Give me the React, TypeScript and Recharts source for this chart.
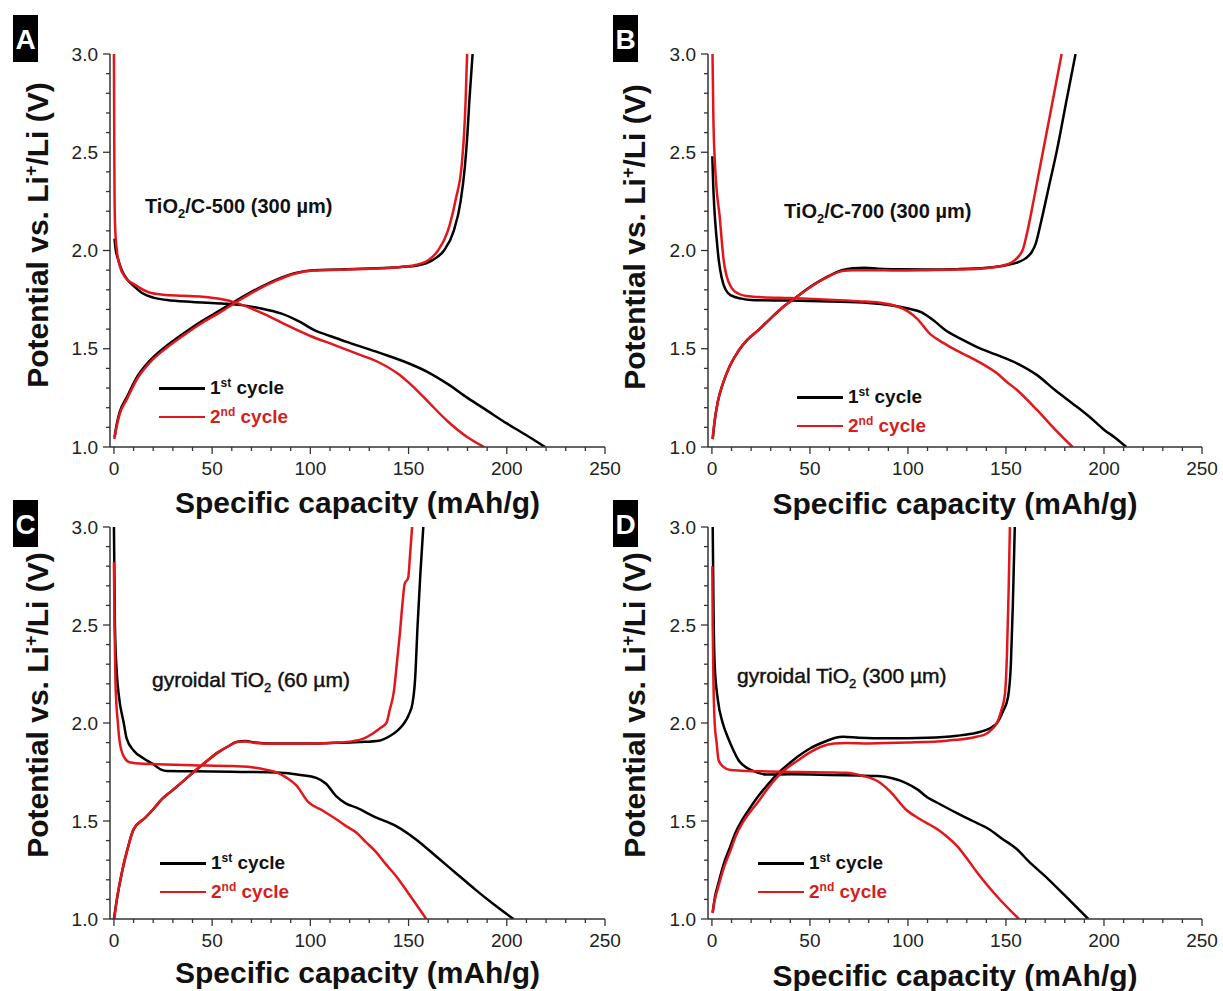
import React from 'react';
import { LineChart, Line, XAxis, YAxis, Legend } from 'recharts';

type Pt = [number, number];

// axis ticks
const xMajor = [0, 50, 100, 150, 200, 250];
const xTicks = [0, 10, 20, 30, 40, 50, 60, 70, 80, 90, 100, 110, 120, 130, 140, 150, 160, 170, 180, 190, 200, 210, 220, 230, 240, 250];
const yMajor = [1.0, 1.5, 2.0, 2.5, 3.0];
const yTicks = [1.0, 1.1, 1.2, 1.3, 1.4, 1.5, 1.6, 1.7, 1.8, 1.9, 2.0, 2.1, 2.2, 2.3, 2.4, 2.5, 2.6, 2.7, 2.8, 2.9, 3.0];

const cycleNames = ['1st cycle', '2nd cycle'];
const panelLetters = ['A', 'B', 'C', 'D'];
const sampleNames = ['TiO2/C-500 (300 µm)', 'TiO2/C-700 (300 µm)', 'gyroidal TiO2 (60 µm)', 'gyroidal TiO2 (300 µm)'];

// [capacity mAh/g, potential V]
const aDis1: Pt[] = [[0.3, 2.06], [0.8, 2.01], [2, 1.96], [4, 1.9], [7, 1.85], [10, 1.82], [15, 1.78], [20, 1.76], [27, 1.748], [40, 1.738], [55, 1.73], [65, 1.722], [75, 1.705], [85, 1.68], [95, 1.635], [102, 1.595], [110, 1.565], [120, 1.53], [135, 1.48], [149, 1.43], [160, 1.38], [170, 1.32], [180, 1.25], [190, 1.185], [200, 1.12], [210, 1.06], [219.5, 1.0]];
const aChg1: Pt[] = [[0.3, 1.05], [1.5, 1.12], [3, 1.18], [6.4, 1.25], [12, 1.36], [18.3, 1.44], [26.8, 1.515], [35, 1.575], [43.8, 1.635], [54, 1.695], [64, 1.755], [73, 1.805], [82.8, 1.852], [92, 1.885], [101.5, 1.9], [115, 1.903], [130, 1.908], [145, 1.915], [155, 1.925], [162, 1.95], [168, 2.0], [173, 2.1], [176.5, 2.25], [178.7, 2.43], [180, 2.6], [181, 2.77], [182.6, 3.0]];
const aDis2: Pt[] = [[0, 3.0], [0.15, 2.6], [0.3, 2.3], [0.6, 2.12], [1.5, 2.0], [3, 1.92], [6, 1.86], [10, 1.83], [18, 1.786], [25, 1.775], [35, 1.77], [45, 1.765], [55, 1.752], [62, 1.735], [70, 1.705], [78, 1.67], [88, 1.62], [100, 1.565], [112, 1.52], [125, 1.47], [135, 1.43], [145, 1.37], [152, 1.31], [160, 1.23], [170, 1.13], [180, 1.05], [188.5, 1.0]];
const aChg2: Pt[] = [[0.2, 1.04], [1.5, 1.11], [3, 1.17], [6.4, 1.24], [12, 1.35], [18.3, 1.43], [26.8, 1.505], [35, 1.565], [43.8, 1.625], [54, 1.685], [64, 1.748], [73, 1.8], [82.8, 1.848], [92, 1.882], [101.5, 1.898], [115, 1.902], [130, 1.907], [145, 1.915], [153, 1.925], [160, 1.95], [165, 2.0], [170, 2.1], [174, 2.26], [177, 2.43], [178.3, 2.6], [179, 2.75], [179.8, 3.0]];

const bDis1: Pt[] = [[0.2, 2.48], [0.6, 2.35], [1.2, 2.22], [2.4, 2.06], [3.5, 1.95], [5, 1.86], [7, 1.8], [10, 1.77], [15, 1.755], [20, 1.748], [40, 1.745], [60, 1.74], [80, 1.733], [92, 1.72], [100, 1.705], [107, 1.685], [113, 1.645], [119, 1.595], [127, 1.55], [135, 1.51], [145, 1.47], [155.6, 1.426], [165.7, 1.367], [175, 1.29], [186, 1.206], [193, 1.15], [200, 1.088], [206, 1.045], [211.4, 1.0]];
const bChg1: Pt[] = [[0.4, 1.04], [1.5, 1.14], [3, 1.23], [5.5, 1.32], [9, 1.41], [13.6, 1.49], [18, 1.545], [23.7, 1.595], [30, 1.655], [36, 1.71], [43, 1.762], [50, 1.814], [58, 1.862], [66.3, 1.9], [72, 1.91], [78, 1.912], [85, 1.907], [95, 1.904], [110, 1.903], [125, 1.905], [140, 1.912], [150, 1.925], [156, 1.94], [160, 1.96], [163, 1.99], [165, 2.03], [168, 2.15], [172, 2.33], [176, 2.51], [181, 2.77], [185.5, 3.0]];
const bDis2: Pt[] = [[0.3, 3.0], [0.7, 2.7], [1.5, 2.45], [2.5, 2.3], [4, 2.17], [5, 2.05], [6, 1.95], [7.5, 1.87], [10, 1.81], [13.6, 1.78], [18, 1.768], [24, 1.763], [40, 1.758], [60, 1.75], [75, 1.742], [85, 1.735], [93, 1.72], [100, 1.69], [105, 1.65], [111, 1.578], [118, 1.53], [125, 1.49], [135, 1.44], [145.4, 1.375], [150, 1.335], [155.6, 1.29], [165.7, 1.19], [175, 1.09], [184, 1.0]];
const bChg2: Pt[] = [[0.3, 1.04], [1.5, 1.14], [3, 1.23], [5.5, 1.32], [9, 1.41], [13.6, 1.49], [18, 1.545], [23.7, 1.595], [30, 1.655], [36, 1.71], [43, 1.762], [50, 1.812], [58, 1.86], [66.3, 1.895], [72, 1.9], [80, 1.9], [95, 1.898], [110, 1.9], [125, 1.903], [140, 1.91], [148, 1.922], [153, 1.94], [156, 1.965], [158.8, 2.01], [161, 2.1], [164, 2.25], [166.5, 2.38], [169, 2.51], [174, 2.77], [178.4, 3.0]];

const cDis1: Pt[] = [[0, 3.0], [0.5, 2.5], [1.5, 2.25], [2.5, 2.14], [5, 2.0], [6.5, 1.92], [10, 1.86], [15, 1.82], [20, 1.79], [24, 1.762], [27, 1.755], [40, 1.754], [60, 1.751], [83, 1.747], [95, 1.735], [103, 1.72], [108, 1.69], [113, 1.628], [118, 1.59], [123.5, 1.568], [133, 1.52], [143.7, 1.474], [153.8, 1.406], [164, 1.32], [174, 1.235], [184, 1.15], [194, 1.07], [203.4, 1.0]];
const cChg1: Pt[] = [[0, 1.0], [1.5, 1.1], [4, 1.235], [7, 1.36], [10, 1.457], [16, 1.517], [20, 1.56], [24.3, 1.61], [29, 1.65], [34.4, 1.696], [40, 1.745], [46.6, 1.8], [53, 1.85], [58.7, 1.884], [62.8, 1.905], [67, 1.908], [72, 1.9], [80, 1.895], [95, 1.895], [110, 1.898], [125, 1.903], [135, 1.91], [140.7, 1.935], [144.5, 1.962], [147.8, 2.0], [150, 2.04], [152, 2.1], [153.3, 2.22], [154.6, 2.5], [156, 2.76], [157.5, 3.0]];
const cDis2: Pt[] = [[0, 2.82], [0.3, 2.5], [0.8, 2.2], [2, 2.0], [3, 1.9], [5, 1.83], [8, 1.8], [15, 1.792], [22, 1.79], [40, 1.785], [60, 1.78], [72, 1.772], [78, 1.76], [83, 1.747], [88, 1.72], [93, 1.68], [99, 1.596], [106, 1.555], [113, 1.51], [118, 1.475], [123.5, 1.44], [128, 1.395], [133.6, 1.34], [138, 1.285], [143.7, 1.218], [150, 1.13], [159, 1.0]];
const cChg2: Pt[] = [[0.2, 1.0], [1.5, 1.1], [4, 1.235], [7, 1.36], [10, 1.457], [16, 1.517], [20, 1.56], [24.3, 1.61], [29, 1.65], [34.4, 1.696], [40, 1.745], [46.6, 1.8], [53, 1.85], [58.7, 1.884], [62.8, 1.903], [67, 1.905], [72, 1.898], [80, 1.894], [95, 1.894], [110, 1.898], [120, 1.905], [127, 1.92], [131.6, 1.945], [135, 1.97], [138.7, 2.0], [140.5, 2.07], [142.5, 2.16], [144, 2.3], [145.5, 2.45], [147, 2.62], [148, 2.71], [149.8, 2.74], [150.7, 2.85], [151.8, 3.0]];

const dDis1: Pt[] = [[0.4, 3.0], [0.8, 2.6], [1.4, 2.3], [3, 2.12], [5.5, 2.0], [8, 1.93], [11, 1.86], [13.6, 1.81], [18, 1.77], [23.7, 1.746], [27.8, 1.737], [40, 1.738], [60, 1.735], [75, 1.732], [84.6, 1.729], [92, 1.718], [98.8, 1.695], [105, 1.66], [110, 1.62], [115, 1.593], [125, 1.54], [133, 1.5], [141.4, 1.458], [148, 1.41], [155.6, 1.356], [162, 1.29], [169.8, 1.22], [180, 1.12], [192, 1.0]];
const dChg1: Pt[] = [[0.4, 1.034], [1.5, 1.11], [3.4, 1.186], [6, 1.28], [9.5, 1.373], [12, 1.44], [15.6, 1.508], [19, 1.56], [23.7, 1.627], [28, 1.68], [33.9, 1.746], [39, 1.79], [44, 1.83], [50, 1.87], [58.2, 1.907], [63, 1.925], [67, 1.93], [75, 1.925], [90, 1.922], [110, 1.925], [125, 1.935], [135, 1.95], [140, 1.965], [143, 1.98], [145.4, 2.0], [148.5, 2.06], [151, 2.13], [152.5, 2.3], [153.5, 2.6], [154.5, 3.0]];
const dDis2: Pt[] = [[0.2, 2.8], [0.4, 2.5], [0.8, 2.2], [1.4, 2.0], [2.4, 1.9], [3.4, 1.81], [6, 1.775], [9.5, 1.76], [15, 1.757], [23.7, 1.754], [45, 1.75], [60, 1.748], [68.4, 1.746], [77, 1.73], [84.6, 1.703], [91, 1.65], [98.8, 1.56], [106, 1.51], [115, 1.458], [120, 1.42], [125, 1.373], [130, 1.31], [135.3, 1.237], [145, 1.12], [156.6, 1.0]];
const dChg2: Pt[] = [[0.3, 1.03], [1.5, 1.1], [3.4, 1.17], [6, 1.26], [9.5, 1.35], [12, 1.42], [15.6, 1.49], [19, 1.54], [23.7, 1.6], [28, 1.66], [33.9, 1.73], [39, 1.775], [44, 1.81], [50, 1.85], [56, 1.88], [62.3, 1.895], [68.4, 1.898], [80, 1.896], [100, 1.9], [120, 1.91], [135, 1.93], [140, 1.945], [143, 1.97], [145.4, 2.0], [147.5, 2.06], [149.5, 2.15], [150.5, 2.35], [151.3, 2.65], [152, 3.0]];

const W = 1223;
const H = 991;
const FONT = '"Liberation Sans", Arial, Helvetica, sans-serif';
const BLACK = '#000000';
const RED = '#e3161c';
const AXIS = '#333333';

const toRows = (pts: Pt[]) => pts.map(([c, v]) => ({ c, v }));

interface PanelSpec {
  letter: string;
  sample: string;
  dis1: Pt[];
  chg1: Pt[];
  dis2: Pt[];
  chg2: Pt[];
  plot: { left: number; top: number; right: number; bottom: number };
  sampleAt: [number, number];
  legendAt: [number, number];
  yTitleX: number;
  yTitleY: number;
  xTitleY: number;
}

const panels: PanelSpec[] = [
  { letter: panelLetters[0], sample: sampleNames[0], dis1: aDis1, chg1: aChg1, dis2: aDis2, chg2: aChg2,
    plot: { left: 110, top: 54, right: 605, bottom: 447 }, sampleAt: [145, 213], legendAt: [159, 374],
    yTitleX: 37, yTitleY: 235, xTitleY: 502 },
  { letter: panelLetters[1], sample: sampleNames[1], dis1: bDis1, chg1: bChg1, dis2: bDis2, chg2: bChg2,
    plot: { left: 708, top: 54, right: 1202, bottom: 447 }, sampleAt: [784, 218], legendAt: [797, 383],
    yTitleX: 634, yTitleY: 237, xTitleY: 503 },
  { letter: panelLetters[2], sample: sampleNames[2], dis1: cDis1, chg1: cChg1, dis2: cDis2, chg2: cChg2,
    plot: { left: 110, top: 527, right: 605, bottom: 919 }, sampleAt: [152, 687], legendAt: [160, 849],
    yTitleX: 37, yTitleY: 705, xTitleY: 972 },
  { letter: panelLetters[3], sample: sampleNames[3], dis1: dDis1, chg1: dChg1, dis2: dDis2, chg2: dChg2,
    plot: { left: 708, top: 527, right: 1202, bottom: 919 }, sampleAt: [737, 683], legendAt: [758, 849],
    yTitleX: 634, yTitleY: 705, xTitleY: 975 },
];

const XTick = (props: any) => {
  const { x, y, payload } = props;
  const major = xMajor.includes(payload.value);
  return (
    <g>
      <line x1={x} x2={x} y1={y} y2={y + (major ? 7 : 4)} stroke={AXIS} strokeWidth={1.3} />
      {major && (
        <text x={x} y={y + 21} dy="0.35em" textAnchor="middle" fontFamily={FONT} fontSize={19} fill="#222">
          {payload.value}
        </text>
      )}
    </g>
  );
};

const YTick = (props: any) => {
  const { x, y, payload } = props;
  const major = yMajor.some((m) => Math.abs(m - payload.value) < 1e-6);
  return (
    <g>
      <line x1={x} x2={x - (major ? 7 : 4)} y1={y} y2={y} stroke={AXIS} strokeWidth={1.3} />
      {major && (
        <text x={x - 12} y={y} dy="0.35em" textAnchor="end" fontFamily={FONT} fontSize={19} fill="#222">
          {Number(payload.value).toFixed(1)}
        </text>
      )}
    </g>
  );
};

const CycleLegend = (props: any) => {
  // only the two cycle names, the charge halves stay out of the key
  const items = ((props.payload || []) as any[])
    .filter((it) => cycleNames.includes(it.value))
    .sort((a, b) => cycleNames.indexOf(a.value) - cycleNames.indexOf(b.value));
  return (
    <div style={{ fontFamily: FONT, fontWeight: 'bold', fontSize: 19 }}>
      {items.map((it) => {
        const m = String(it.value).match(/^(\d)(st|nd|rd|th)\s(.*)$/);
        return (
          <div key={it.value} style={{ display: 'flex', alignItems: 'center', height: 28.5, color: it.color === RED ? '#d41f1f' : '#111' }}>
            <div style={{ width: 46, height: 2.5, background: it.color, marginRight: 5 }} />
            {m ? (
              <span>
                {m[1]}
                <span style={{ fontSize: 12, position: 'relative', top: -7 }}>{m[2]}</span> {m[3]}
              </span>
            ) : (
              <span>{it.value}</span>
            )}
          </div>
        );
      })}
    </div>
  );
};

function Panel({ p }: { p: PanelSpec }) {
  const { plot } = p;
  const yAxisW = 70;
  const xAxisH = 40;
  const lineProps = { type: 'monotone' as const, dataKey: 'v', dot: false, strokeWidth: 2.5, isAnimationActive: false };
  return (
    <div style={{ position: 'absolute', left: 0, top: 0 }}>
      <LineChart
        width={W}
        height={H}
        margin={{ left: plot.left - yAxisW, top: plot.top, right: W - plot.right, bottom: H - plot.bottom - xAxisH }}
      >
        <XAxis
          type="number"
          dataKey="c"
          domain={[-2, 250]}
          allowDataOverflow
          ticks={xTicks}
          interval={0}
          tick={<XTick />}
          tickLine={false}
          tickSize={0}
          tickMargin={0}
          height={xAxisH}
          axisLine={{ stroke: AXIS, strokeWidth: 1.5 }}
          label={{
            content: () => (
              <text x={(plot.left + plot.right) / 2} y={p.xTitleY} dy="0.35em" textAnchor="middle"
                fontFamily={FONT} fontWeight="bold" fontSize={30} fill="#111">
                Specific capacity (mAh/g)
              </text>
            ),
          }}
        />
        <YAxis
          type="number"
          dataKey="v"
          domain={[1, 3]}
          allowDataOverflow
          ticks={yTicks}
          interval={0}
          tick={<YTick />}
          tickLine={false}
          tickSize={0}
          tickMargin={0}
          width={yAxisW}
          axisLine={{ stroke: AXIS, strokeWidth: 1.5 }}
          label={{
            content: () => (
              <text x={p.yTitleX} y={p.yTitleY} dy="0.35em" textAnchor="middle"
                transform={`rotate(-90 ${p.yTitleX} ${p.yTitleY})`}
                fontFamily={FONT} fontWeight="bold" fontSize={30} fill="#111">
                Potential vs. Li<tspan fontSize={18} dy={-11}>+</tspan><tspan dy={11}>/Li (V)</tspan>
              </text>
            ),
          }}
        />
        <Legend
          layout="horizontal"
          verticalAlign="middle"
          content={<CycleLegend />}
          wrapperStyle={{ left: p.legendAt[0], top: p.legendAt[1], width: 'auto', height: 'auto' }}
        />
        <Line {...lineProps} data={toRows(p.dis1)} name={cycleNames[0]} stroke={BLACK} />
        <Line {...lineProps} data={toRows(p.chg1)} name="1st charge" stroke={BLACK} legendType="none" />
        <Line {...lineProps} data={toRows(p.dis2)} name={cycleNames[1]} stroke={RED} />
        <Line {...lineProps} data={toRows(p.chg2)} name="2nd charge" stroke={RED} legendType="none" />
      </LineChart>
    </div>
  );
}

function SampleLabel({ p }: { p: PanelSpec }) {
  const [x, y] = p.sampleAt;
  const bold = p.sample.startsWith('TiO2');
  const parts = p.sample.split('TiO2');
  return (
    <text x={x} y={y} fontFamily={FONT} fontWeight={bold ? 'bold' : 'normal'} fontSize={bold ? 20 : 21}
      fill="#111" stroke={bold ? 'none' : '#111'} strokeWidth={bold ? 0 : 0.45}>
      {parts[0]}TiO<tspan fontSize={13} dy={5}>2</tspan>
      <tspan dy={-5}>{parts[1]}</tspan>
    </text>
  );
}

const boxes: [number, number][] = [[13, 15], [613, 15], [13, 500], [613, 500]];

export default function App() {
  return (
    <div style={{ position: 'absolute', left: 0, top: 0, width: W, height: H, background: '#fff' }}>
      {panels.map((p) => (
        <Panel key={p.letter} p={p} />
      ))}
      <svg width={W} height={H} style={{ position: 'absolute', left: 0, top: 0, pointerEvents: 'none' }}>
        {panels.map((p, i) => (
          <g key={p.letter}>
            <rect x={boxes[i][0]} y={boxes[i][1]} width={25} height={47} fill="#000" />
            <text x={boxes[i][0] + 12.5} y={boxes[i][1] + 24} dy="0.35em" textAnchor="middle"
              fontFamily={FONT} fontWeight="bold" fontSize={28} fill="#fff">
              {p.letter}
            </text>
            <SampleLabel p={p} />
          </g>
        ))}
      </svg>
    </div>
  );
}
